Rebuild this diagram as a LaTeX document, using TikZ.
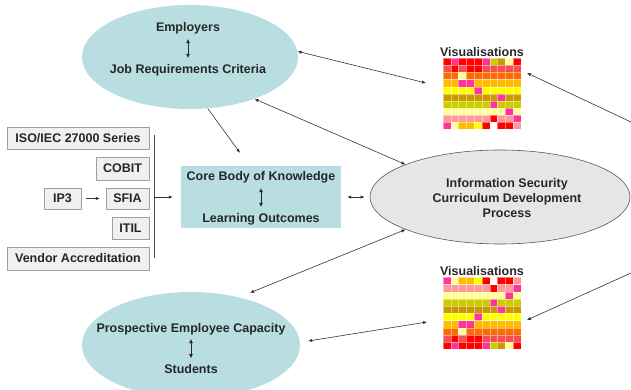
\documentclass[tikz,border=0pt]{standalone}
\usepackage{fontspec}
\setmainfont{Liberation Sans}
\usetikzlibrary{arrows.meta,calc,shapes.geometric}
\definecolor{cy}{HTML}{B9DEE2}
\definecolor{bigfill}{HTML}{E6E6E6}
\definecolor{hmR}{HTML}{FF0000}
\definecolor{hmP}{HTML}{FF3399}
\definecolor{hmO}{HTML}{CCCC00}
\definecolor{hmG}{HTML}{CC9900}
\definecolor{hmL}{HTML}{FFFF99}
\definecolor{hmC}{HTML}{F55050}
\definecolor{hmN}{HTML}{FF6A00}
\definecolor{hmA}{HTML}{FFBB00}
\definecolor{hmY}{HTML}{FFFF00}
\definecolor{hmK}{HTML}{FF9999}
\definecolor{hmW}{HTML}{FFFFFF}
\newcommand{\ft}{\fontsize{12.5}{15}\selectfont\bfseries}
\begin{document}
\begin{tikzpicture}[x=1pt,y=-1pt,
  txt/.style={font=\ft, inner sep=0pt, text=black!85},
  cyell/.style={ellipse, fill=cy, inner sep=0pt},
  box/.style={draw=gray!75, fill=gray!12, minimum height=22pt, inner sep=0pt, font=\ft, text=black!85},
  hmbox/.style={minimum width=78pt, minimum height=71pt, inner sep=0pt},
  arr/.style={draw=black!80, line width=0.6pt, -{Latex[length=4pt,width=3.4pt]}},
  darr/.style={draw=black!80, line width=0.6pt, {Latex[length=4pt,width=3.4pt]}-{Latex[length=4pt,width=3.4pt]}},
  sarr/.style={draw=black!85, line width=0.7pt, {Latex[length=4pt,width=4pt]}-{Latex[length=4pt,width=4pt]}},
  cell/.style={draw=white, draw opacity=0.45, line width=0.2pt}
]
\useasboundingbox (0,0) rectangle (631,390);

% top ellipse
\node[cyell, minimum width=216pt, minimum height=104pt] (e1) at (190,57) {};
\node[txt] (emp) at (188,28) {Employers};
\node[txt] (jrc) at (188,70) {Job Requirements Criteria};
\draw[sarr, shorten <=5pt, shorten >=6pt] (emp) -- (jrc);

% bottom ellipse
\node[cyell, minimum width=218pt, minimum height=106pt] (e2) at (191,345) {};
\node[txt] (pec) at (191,329) {Prospective Employee Capacity};
\node[txt] (stu) at (191,369) {Students};
\draw[sarr, shorten <=4pt, shorten >=6pt] (pec) -- (stu);

% core box
\node[fill=cy, minimum width=160pt, minimum height=62pt, inner sep=0pt] (core) at (261,197) {};
\node[txt] (cbk) at (261,177) {Core Body of Knowledge};
\node[txt] (lo) at (261,219) {Learning Outcomes};
\draw[sarr, shorten <=5pt, shorten >=6pt] (cbk) -- (lo);

% big ellipse
\node[ellipse, draw=black!65, line width=0.6pt, fill=bigfill, minimum width=260pt, minimum height=94pt, inner sep=0pt] (e3) at (500,197) {};
\node[txt, align=center] (iscdp) at (507,198) {Information Security\\Curriculum Development\\Process};

% left boxes
\node[box, minimum width=142pt] (iso) at (78,138) {ISO/IEC 27000 Series};
\node[box, minimum width=53pt, minimum height=23pt] (cobit) at (122.5,168.5) {COBIT};
\node[box, minimum width=37pt, minimum height=21pt] (ip3) at (62.5,198.5) {IP3};
\node[box, minimum width=43pt, minimum height=21pt] (sfia) at (127.5,198.5) {SFIA};
\node[box, minimum width=37pt] (itil) at (130.5,228) {ITIL};
\node[box, minimum width=142pt, minimum height=23pt] (vendor) at (78,258.5) {Vendor Accreditation};
\draw[arr, shorten <=5pt, shorten >=6pt] (ip3) -- (sfia);
\coordinate (bt) at (154,135);
\coordinate (bb) at (154,258);
\coordinate (bm) at (154,197);
\draw[draw=black!70, line width=0.6pt] (bt) -- (bb);
\draw[arr, shorten >=8pt] (bm) -- (core.west);

% heatmaps
\node[hmbox] (hm1) at (482,94) {};
\node[txt] (vis1) at (482,52) {Visualisations};
\foreach \row [count=\i] in {{R,P,R,R,R,P,O,G,L,R},{C,R,C,R,R,C,C,C,C,C},{N,N,L,N,N,N,N,N,N,N},{A,A,P,P,A,A,A,A,A,A},{Y,Y,Y,Y,P,Y,Y,Y,Y,Y},{G,G,G,G,G,G,G,P,G,G},{O,O,O,O,O,O,P,O,O,O},{L,L,L,L,L,L,L,L,P,L},{K,K,K,K,K,K,R,K,K,P},{P,L,A,A,Y,R,W,R,R,K}} {
  \foreach \c [count=\j] in \row {
    \filldraw[cell, fill=hm\c] ($(hm1.north west)+({(\j-1)*7.8},{(\i-1)*7.1})$) rectangle +(7.8,7.1);
  }
}
\node[hmbox] (hm2) at (482,313) {};
\node[txt] (vis2) at (482,271) {Visualisations};
\foreach \row [count=\i] in {{P,L,A,A,Y,R,W,R,R,K},{K,K,K,K,K,K,R,K,K,P},{L,L,L,L,L,L,L,L,P,L},{O,O,O,O,O,O,P,O,O,O},{G,G,G,G,G,G,G,P,G,G},{Y,Y,Y,Y,P,Y,Y,Y,Y,Y},{A,A,P,P,A,A,A,A,A,A},{N,N,L,N,N,N,N,N,N,N},{C,R,C,R,R,C,C,C,C,C},{R,P,R,R,R,P,O,G,L,R}} {
  \foreach \c [count=\j] in \row {
    \filldraw[cell, fill=hm\c] ($(hm2.north west)+({(\j-1)*7.8},{(\i-1)*7.2})$) rectangle +(7.8,7.2);
  }
}

% connectors
\draw[darr] (e1.3) -- ($(hm1.center)+(-56,-11)$);
\draw[darr] (e1.-33) -- (e3.161);
\draw[arr] (e1.-71) -- ($(core.north)+(-21,-13)$);
\draw[darr, shorten <=6pt, shorten >=5pt] (core.east) -- (e3.west);
\draw[darr] (e3.-161) -- ($(e2.north)+(59,1)$);
\draw[darr] ($(e2.east)+(8,-4)$) -- ($(hm2.center)+(-55,9)$);
\coordinate (rt) at (631,122);
\coordinate (rb) at (631,273);
\draw[arr] (rt) -- ($(hm1.center)+(45,-21)$);
\draw[arr] (rb) -- ($(hm2.center)+(45,7)$);
\end{tikzpicture}
\end{document}
